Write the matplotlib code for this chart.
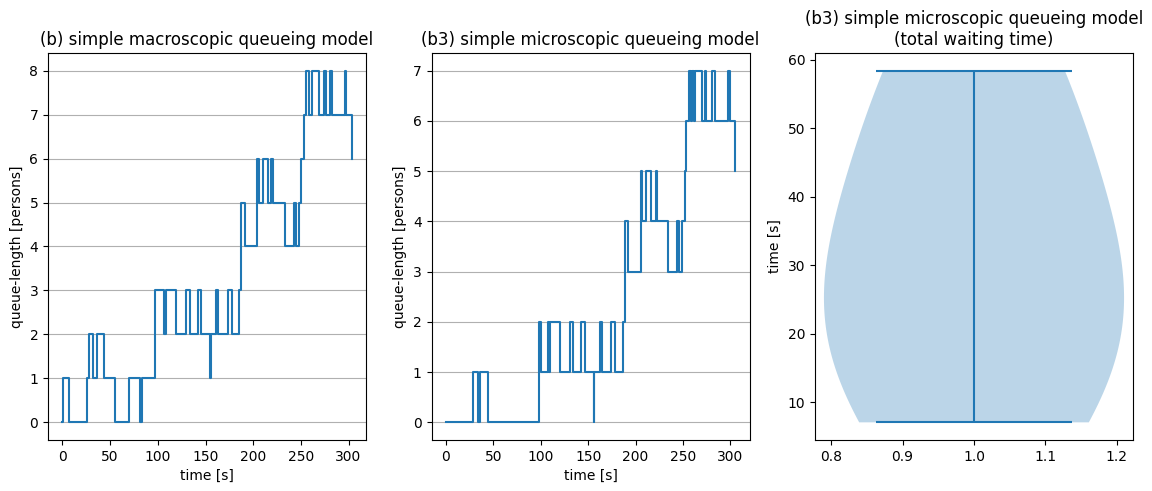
import matplotlib
matplotlib.use("Agg")
import matplotlib.pyplot as plt
import numpy as np

# (b) macroscopic model: event times [s] and queue length after each event
times_macro = [0, 0.3, 6.5, 25.5, 28, 32.5, 36, 44, 55, 69.5,
               81, 83, 97.2, 97.4, 106, 108.5, 119.5, 130, 133.5, 142,
               145.5, 155, 155.3, 161, 163, 174, 177.5, 185.5, 187, 187.2,
               191.5, 204, 204.2, 206, 210.5, 215.5, 219, 221, 233.5, 242.5,
               245, 248.5, 250, 253.3, 255.3, 259, 261.4, 269.3, 273.8, 276.3,
               281, 282.8, 296.2, 297.6, 303.2]
queue_macro = [0, 1, 0, 1, 2, 1, 2, 1, 0, 1,
               0, 1, 2, 3, 2, 3, 2, 3, 2, 3,
               2, 1, 2, 3, 2, 3, 2, 3, 4, 5,
               4, 5, 6, 5, 6, 5, 6, 5, 4, 5,
               4, 5, 6, 7, 8, 7, 8, 7, 8, 7,
               8, 7, 8, 7, 6]

# (b3) microscopic model
times_micro = [0, 28.5, 33.3, 36, 44, 97.9, 100.7, 107.7, 108.7, 109.8,
               120, 130.5, 134, 142.8, 146.3, 155.8, 156.1, 162.8, 164.5, 174.4,
               178.6, 186.6, 188.4, 191.9, 205.3, 207, 211.3, 216.5, 221, 222.8,
               234, 243.9, 246.3, 249.2, 251.6, 253.4, 256.1, 258.2, 259.5, 261.6,
               262.8, 270.2, 273.4, 274.7, 281, 283.5, 297.9, 299.3, 304.9]
queue_micro = [0, 1, 0, 1, 0, 2, 1, 2, 1, 2,
               1, 2, 1, 2, 1, 0, 1, 2, 1, 2,
               1, 2, 4, 3, 5, 4, 5, 4, 5, 4,
               3, 4, 3, 4, 5, 6, 7, 6, 7, 6,
               7, 6, 7, 6, 7, 6, 7, 6, 5]

# total waiting times [s]
waiting_times = [7.1, 22, 36, 58.4]

titles = ["(b) simple macroscopic queueing model",
          "(b3) simple microscopic queueing model",
          "(b3) simple microscopic queueing model\n(total waiting time)"]

fig, axes = plt.subplots(1, 3, figsize=(11.52, 4.91), dpi=100)
fig.subplots_adjust(left=0.0417, right=0.9835, bottom=0.104, top=0.892, wspace=0.206)

ax = axes[0]
ax.plot(times_macro, queue_macro, drawstyle="steps-post", color="C0")
ax.grid(axis="y", color="#b0b0b0")
ax.set_title(titles[0])
ax.set_xlabel("time [s]")
ax.set_ylabel("queue-length [persons]")

ax = axes[1]
ax.plot(times_micro, queue_micro, drawstyle="steps-post", color="C0")
ax.grid(axis="y", color="#b0b0b0")
ax.set_title(titles[1])
ax.set_xlabel("time [s]")
ax.set_ylabel("queue-length [persons]")

ax = axes[2]
pos = 1.0
parts = ax.violinplot([waiting_times], positions=[pos], widths=0.42)
cap = 0.1375
lo, hi = min(waiting_times), max(waiting_times)
parts["cmins"].set_segments([[(pos - cap, lo), (pos + cap, lo)]])
parts["cmaxes"].set_segments([[(pos - cap, hi), (pos + cap, hi)]])
ax.set_xlim(0.7775, 1.2225)
ax.set_title(titles[2])
ax.set_ylabel("time [s]")

fig.savefig("out.png", dpi=100)
